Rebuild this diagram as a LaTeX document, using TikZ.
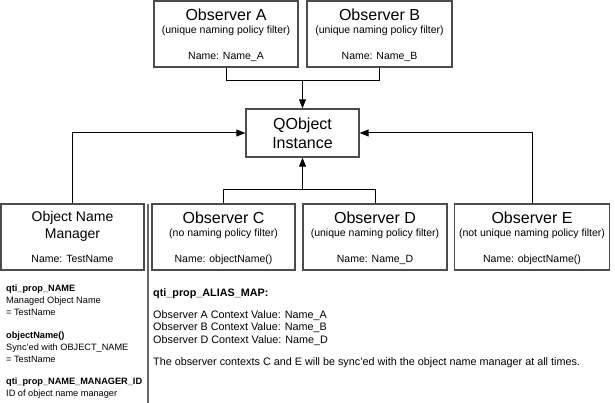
\documentclass[tikz,border=0pt]{standalone}
\usepackage{fontspec}
\setmainfont{Liberation Sans}
\usetikzlibrary{arrows.meta}
\usetikzlibrary{positioning}
\usetikzlibrary{calc}
\tikzstyle{box}=[rectangle,draw=black!70,line width=1.4pt,minimum height=66pt,inner sep=0pt]
\tikzstyle{titletext}=[font=\fontsize{16}{19}\selectfont,inner sep=0pt]
\tikzstyle{smalltext}=[font=\fontsize{10.5}{12.5}\selectfont,inner sep=0pt]
\tikzstyle{edge}=[draw,line width=1pt,-{Triangle[length=9pt,width=7pt]}]
\tikzstyle{plainedge}=[draw,line width=1pt]
\tikzstyle{separator}=[draw,black!60,line width=1.6pt]
\tikzstyle{notetext}=[align=left,inner sep=0pt]

\begin{document}
\begin{tikzpicture}[x=1pt,y=-1pt]
    \useasboundingbox (0,0) rectangle (615,403);

    \foreach \pos/\name/\boxw/\title/\filter/\val in {{(226,34)/obsA/144/Observer A/unique naming policy filter/Name\_A}, {(379.5,34)/obsB/145/Observer B/unique naming policy filter/Name\_B}, {(223.5,237)/obsC/143/Observer C/no naming policy filter/objectName()}, {(375,237)/obsD/144/Observer D/unique naming policy filter/Name\_D}, {(532,237)/obsE/155/Observer E/not unique naming policy filter/objectName()}}
    {
        \node[box,minimum width=\boxw pt] (\name) at \pos {};
        \node[titletext,anchor=base] (\name-title) at ([yshift=-20pt]\name.north) {\title};
        \node[smalltext,anchor=base] (\name-filter) at ([yshift=-33pt]\name.north) {(\filter)};
        \node[smalltext,anchor=base] (\name-value) at ([yshift=8pt]\name.south) {Name: \val};
    }

    \node[box,minimum width=143pt] (mgr) at (72.5,237) {};
    \node[titletext,font=\fontsize{14}{17}\selectfont,align=center,anchor=north] (mgr-title) at ([yshift=-8pt]mgr.north) {Object Name\\Manager};
    \node[smalltext,anchor=base] (mgr-value) at ([yshift=8pt]mgr.south) {Name: TestName};

    \node[box,titletext,align=center,minimum width=113pt,minimum height=48pt] (qobj) at (302.5,133) {QObject\\Instance};

    % joins of the observer lines
    \coordinate (topjoin) at (302.5,81);
    \coordinate (botjoin) at (302.5,190);
    \foreach \source in {obsA,obsB}
        \path[plainedge] (\source.south) |- (topjoin);
    \path[edge] (topjoin) -- (qobj.north);
    \foreach \source in {obsC,obsD}
        \path[plainedge] (\source.north) |- (botjoin);
    \path[edge] (botjoin) -- (qobj.south);
    \path[edge] (mgr.north) |- (qobj.west);
    \path[edge] (obsE.north) |- (qobj.east);

    \coordinate (septop) at (148,204);
    \coordinate (sepbot) at (148,403);
    \path[separator] (septop) -- (sepbot);

    \node[notetext,font=\fontsize{9.2}{12}\selectfont,anchor=north west] (mgr-notes) at (6,285) {\textbf{qti\_prop\_NAME}\\Managed Object Name\\= TestName\\[10.5pt]\textbf{objectName()}\\Sync'ed with OBJECT\_NAME\\= TestName\\[10.5pt]\textbf{qti\_prop\_NAME\_MANAGER\_ID}\\ID of object name manager};
    \node[notetext,font=\fontsize{10.8}{12.5}\selectfont,anchor=north west] (alias-notes) at (153,288.5) {\textbf{qti\_prop\_ALIAS\_MAP:}\\[9pt]Observer A Context Value: Name\_A\\Observer B Context Value: Name\_B\\Observer D Context Value: Name\_D\\[10pt]The observer contexts C and E will be sync'ed with the object name manager at all times.};
\end{tikzpicture}
\end{document}
